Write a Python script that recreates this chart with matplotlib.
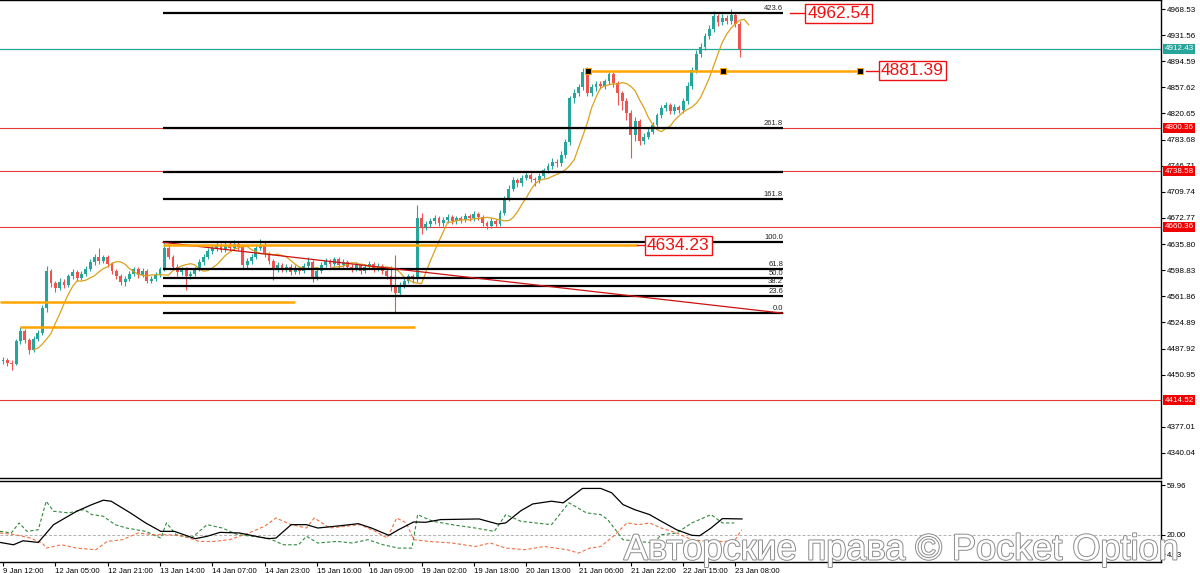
import numpy as np
import matplotlib
matplotlib.use("Agg")
import matplotlib.pyplot as plt
import matplotlib.patheffects as pe
import matplotlib.transforms as mtransforms

# ---------------- data ----------------
closes = [4472, 4468, 4466, 4498, 4512, 4500, 4486, 4502, 4510, 4545,
          4598, 4580, 4574, 4582, 4578, 4590, 4596, 4588, 4594, 4600,
          4610, 4618, 4612, 4617, 4608, 4598, 4590, 4582, 4586, 4594,
          4600, 4592, 4598, 4584, 4586, 4592, 4600, 4630, 4618, 4604,
          4596, 4600, 4590, 4594, 4600, 4610, 4618, 4626, 4630, 4634,
          4628, 4635, 4630, 4636, 4632, 4606, 4612, 4618, 4630, 4635,
          4622, 4612, 4600, 4606, 4600, 4604, 4596, 4602, 4598, 4605,
          4610, 4588, 4598, 4606, 4612, 4608, 4614, 4606, 4610, 4604,
          4600, 4606, 4598, 4604, 4608, 4600, 4605, 4598, 4590, 4575,
          4566, 4578, 4584, 4590, 4586, 4672, 4660, 4664, 4668, 4672,
          4666, 4670, 4674, 4668, 4672, 4670, 4676, 4672, 4678, 4674,
          4666, 4662, 4668, 4664, 4680, 4700, 4714, 4726, 4722, 4730,
          4734, 4728, 4726, 4732, 4740, 4746, 4752, 4750, 4762, 4780,
          4842, 4850, 4858, 4880, 4850, 4858, 4862, 4860, 4866, 4876,
          4864, 4850, 4838, 4822, 4790, 4810, 4782, 4788, 4795, 4804,
          4818, 4828, 4832, 4824, 4830, 4826, 4838, 4860, 4882, 4905,
          4915, 4930, 4940, 4958, 4950, 4956, 4952, 4960, 4948, 4912]
highs = [4476, 4475, 4472, 4502, 4518, 4515, 4503, 4506, 4514, 4550,
         4605, 4601, 4584, 4588, 4586, 4594, 4601, 4599, 4598, 4605,
         4615, 4622, 4630, 4621, 4620, 4611, 4601, 4593, 4590, 4598,
         4604, 4603, 4602, 4600, 4590, 4596, 4604, 4638, 4634, 4621,
         4607, 4604, 4603, 4598, 4604, 4614, 4622, 4630, 4636, 4639,
         4637, 4640, 4638, 4641, 4639, 4635, 4616, 4622, 4634, 4643,
         4638, 4625, 4615, 4610, 4609, 4608, 4607, 4606, 4605, 4609,
         4617, 4613, 4602, 4610, 4616, 4615, 4618, 4617, 4614, 4613,
         4607, 4610, 4609, 4608, 4612, 4611, 4609, 4608, 4601, 4605,
         4620, 4582, 4588, 4594, 4593, 4691, 4680, 4669, 4673, 4677,
         4675, 4674, 4679, 4677, 4676, 4676, 4680, 4679, 4682, 4681,
         4677, 4669, 4672, 4671, 4684, 4704, 4719, 4731, 4729, 4734,
         4739, 4737, 4731, 4736, 4744, 4750, 4757, 4756, 4767, 4785,
         4846, 4856, 4863, 4885, 4886, 4863, 4867, 4866, 4870, 4880,
         4879, 4867, 4853, 4842, 4825, 4815, 4813, 4793, 4800, 4808,
         4822, 4833, 4837, 4835, 4834, 4833, 4842, 4865, 4887, 4910,
         4920, 4935, 4946, 4966, 4962, 4961, 4960, 4968, 4963, 4951]
lows = [4466, 4463, 4458, 4464, 4494, 4496, 4480, 4483, 4498, 4507,
        4540, 4575, 4568, 4571, 4573, 4575, 4586, 4584, 4585, 4590,
        4597, 4606, 4608, 4609, 4604, 4594, 4586, 4578, 4577, 4583,
        4590, 4588, 4589, 4580, 4580, 4583, 4589, 4597, 4614, 4600,
        4591, 4592, 4571, 4586, 4591, 4597, 4606, 4614, 4622, 4626,
        4624, 4625, 4626, 4627, 4628, 4602, 4600, 4608, 4615, 4627,
        4618, 4608, 4585, 4596, 4596, 4596, 4592, 4593, 4594, 4595,
        4602, 4582, 4585, 4595, 4603, 4604, 4605, 4602, 4603, 4600,
        4596, 4597, 4594, 4595, 4601, 4596, 4597, 4594, 4586, 4570,
        4538, 4562, 4574, 4580, 4581, 4582, 4650, 4655, 4660, 4664,
        4662, 4662, 4666, 4664, 4664, 4666, 4667, 4668, 4669, 4670,
        4662, 4657, 4658, 4660, 4661, 4677, 4697, 4711, 4716, 4718,
        4726, 4723, 4718, 4722, 4729, 4736, 4742, 4745, 4747, 4758,
        4776, 4836, 4845, 4854, 4845, 4846, 4853, 4855, 4856, 4862,
        4858, 4832, 4826, 4812, 4758, 4782, 4776, 4778, 4784, 4791,
        4800, 4814, 4824, 4820, 4820, 4821, 4822, 4834, 4856, 4878,
        4900, 4911, 4926, 4936, 4945, 4946, 4947, 4948, 4943, 4900]
first_open = 4470
opens = [first_open] + closes[:-1]

time_labels = ["9 Jan 12:00", "12 Jan 05:00", "12 Jan 21:00", "13 Jan 14:00",
               "14 Jan 07:00", "14 Jan 23:00", "15 Jan 16:00", "16 Jan 09:00",
               "19 Jan 02:00", "19 Jan 18:00", "20 Jan 13:00", "21 Jan 06:00",
               "21 Jan 22:00", "22 Jan 15:00", "23 Jan 08:00"]
bars_per_label = 12

price_ticks = [4968.53, 4931.56, 4894.59, 4857.62, 4820.65, 4783.68, 4746.71,
               4709.74, 4672.77, 4635.80, 4598.83, 4561.86, 4524.89, 4487.92,
               4450.95, 4377.01, 4340.04]

red_levels = [4800.36, 4738.58, 4660.36, 4414.52]
teal_level = 4912.43

fib_p0 = 4537.9
fib_p1 = 4638.2
fib_levels = [0.0, 23.6, 38.2, 50.0, 61.8, 100.0, 161.8, 200.0, 261.8, 423.6]
fib_labels = ["0.0", "23.6", "38.2", "50.0", "61.8", "100.0", "161.8", "", "261.8", "423.6"]
fib_bar_start = 36.7
fib_bar_end = 178.9

# orange horizontal segments: price, start bar, end bar
orange_prices = [4634.23, 4553.8, 4518.4, 4881.39]
orange_starts = [36.7, -0.7, 3.9, 134.2]
orange_ends = [145.4, 67.0, 94.5, 197.0]
marker_bars = [134.2, 165.1, 196.6]

# callout boxes: text, price, connector start bar, connector end bar, box centre bar
callout_text = ["4962.54", "4881.39", "4634.23"]
callout_price = [4962.54, 4881.39, 4634.23]
callout_from = [180.5, 197.9, 145.4]
callout_to = [184.6, 201.1, 148.9]
callout_box = [191.7, 208.6, 154.9]

adx_points = [(-0.7, 13.8), (2.4, 11.9), (4.6, 15.1), (8.1, 13.8), (11.6, 28.1), (16.9, 38.9),
              (20.4, 44.3), (23.0, 47.8), (24.8, 47.0), (29.2, 37.6), (32.7, 29.5), (36.2, 22.7),
              (39.3, 22.7), (44.1, 16.8), (46.8, 18.7), (49.8, 21.9), (54.2, 21.4), (57.3, 19.2),
              (60.8, 16.8), (62.6, 17.3), (66.1, 28.1), (69.6, 28.1), (72.2, 25.4), (77.5, 27.3),
              (81.5, 28.9), (84.5, 25.4), (88.5, 19.5), (90.7, 24.0), (94.2, 30.3), (96.9, 30.0),
              (100.4, 32.2), (109.2, 32.7), (113.5, 28.6), (115.3, 29.5), (118.8, 39.4), (121.5, 44.8),
              (125.8, 47.0), (128.5, 45.7), (132.9, 57.3), (137.1, 57.3), (139.6, 53.8), (142.2, 44.3),
              (144.8, 40.3), (148.3, 36.2), (151.0, 30.8), (154.5, 24.0), (158.0, 19.5), (159.8, 19.2),
              (162.4, 25.4), (165.0, 33.0), (169.5, 32.7)]
plus_di_points = [(-0.7, 22.7), (1.9, 21.4), (3.7, 29.5), (5.5, 22.7), (8.1, 24.0), (9.9, 47.0),
                  (11.6, 38.9), (15.1, 37.6), (18.6, 40.3), (20.4, 36.2), (23.0, 34.9), (25.7, 28.1),
                  (28.3, 25.4), (32.7, 22.7), (36.2, 17.3), (37.5, 29.5), (39.7, 20.0), (43.2, 17.3),
                  (46.8, 28.1), (50.3, 25.4), (53.8, 20.0), (57.3, 18.7), (60.8, 17.3), (64.3, 11.9),
                  (67.8, 11.9), (69.6, 18.7), (72.2, 13.3), (76.6, 14.6), (80.1, 13.3), (83.7, 16.0),
                  (87.2, 11.9), (90.7, 9.2), (93.8, 9.2), (95.1, 36.2), (98.6, 30.8), (103.0, 28.1),
                  (108.3, 25.4), (112.7, 22.7), (115.3, 36.2), (118.8, 30.8), (125.8, 28.1), (129.8, 45.7),
                  (133.8, 37.6), (137.1, 36.2), (138.7, 32.2), (142.2, 16.0), (145.7, 14.6), (149.2, 13.3),
                  (151.0, 20.0), (154.5, 21.4), (158.0, 29.5), (162.4, 36.2), (165.0, 29.5), (167.7, 29.5)]
minus_di_points = [(-0.7, 21.4), (2.8, 20.0), (6.3, 17.3), (9.0, 13.3), (9.9, 9.2), (13.4, 11.9),
                   (16.9, 9.2), (21.3, 7.9), (23.9, 14.6), (27.4, 16.0), (31.0, 21.4), (34.5, 20.0),
                   (38.0, 20.0), (41.5, 18.7), (45.0, 14.6), (48.5, 14.6), (52.0, 16.0), (56.4, 21.4),
                   (60.0, 26.8), (62.6, 33.5), (66.1, 28.1), (69.6, 25.4), (71.4, 33.5), (74.9, 25.4),
                   (78.4, 26.8), (81.9, 28.1), (85.4, 22.7), (88.1, 17.3), (90.3, 33.5), (92.5, 29.5),
                   (94.2, 16.0), (97.7, 14.6), (103.0, 13.3), (108.3, 10.5), (111.8, 13.3), (115.3, 9.2),
                   (119.7, 7.9), (124.1, 10.5), (129.4, 7.9), (132.0, 5.2), (134.6, 9.2), (137.1, 10.5),
                   (140.4, 20.0), (143.1, 29.5), (145.7, 28.1), (148.3, 29.5), (151.0, 25.4), (154.5, 21.4),
                   (158.0, 16.0), (161.5, 14.6), (165.0, 14.6), (167.7, 14.6), (169.4, 24.0)]
ind_ticks = [59.96, 20.00, 4.13]
ind_level = 20.0

# ---------------- layout ----------------
FW, FH = 1200, 573
fig = plt.figure(figsize=(FW / 100, FH / 100), dpi=100)
plot_right = 1161
main_top, main_bot = 0, 478
ind_top, ind_bot = 481, 562
ax = fig.add_axes([0, (FH - main_bot) / FH, plot_right / FW, (main_bot - main_top) / FH])
ax2 = fig.add_axes([0, (FH - ind_bot) / FH, plot_right / FW, (ind_bot - ind_top) / FH])

x0_px, bar_px = 3.0, 4.36
xlim = (-x0_px / bar_px, (plot_right - x0_px) / bar_px)

UP = "#26a69a"
DN = "#ef5350"
TEAL = "#26a69a"
RED = "#ee1111"
ORANGE = "#ffa500"
FONT = "Liberation Sans"

# ---------------- main panel ----------------
n = len(closes)
idx = np.arange(n)
o = np.array(opens, float)
c = np.array(closes, float)
h = np.array(highs, float)
l = np.array(lows, float)
up = c >= o
cols = np.where(up, UP, DN)

for lev in red_levels:
    ax.axhline(lev, color="#e53935", lw=0.8, zorder=1)
ax.axhline(teal_level, color=TEAL, lw=0.9, zorder=1)

ax.vlines(idx, l, h, colors=cols, lw=0.8, zorder=3)
body_bottom = np.minimum(o, c)
body_h = np.maximum(np.abs(c - o), 0.8)
ax.bar(idx, body_h, bottom=body_bottom, width=0.66, color=cols, linewidth=0, zorder=3)

# moving average (shifted)
ma_period, ma_shift = 6, 2
ma = np.convolve(c, np.ones(ma_period) / ma_period, mode="valid")
ma_x = np.arange(ma_period - 1, n) + ma_shift
ax.plot(ma_x, ma, color="#d9a21b", lw=0.9, zorder=4)

# Fibonacci
rng = fib_p1 - fib_p0
for lev, lab in zip(fib_levels, fib_labels):
    p = fib_p0 + rng * lev / 100.0
    ax.hlines(p, fib_bar_start, fib_bar_end, color="black", lw=1.6, zorder=5)
    if lab:
        ax.text(fib_bar_end, p + 1.5, lab, ha="right", va="bottom", fontsize=5.5,
                family=FONT, color="#222222", zorder=6)
ax.plot([fib_bar_start, fib_bar_end], [fib_p1, fib_p0], color="#cc1111", lw=0.9, zorder=5)

# orange levels
for p, s, e in zip(orange_prices, orange_starts, orange_ends):
    ax.hlines(p, s, e, color=ORANGE, lw=1.8, zorder=6)
ax.plot(marker_bars, [orange_prices[3]] * len(marker_bars), linestyle="none", marker="s",
        ms=4, mfc="black", mec=ORANGE, mew=0.8, zorder=7)

# callouts
for t, p, a, b, bx in zip(callout_text, callout_price, callout_from, callout_to, callout_box):
    ax.plot([a, b], [p, p], color=RED, lw=1.0, zorder=7)
    ax.text(bx, p, t, ha="center", va="center", fontsize=12.5, family=FONT, color=RED, zorder=8,
            bbox=dict(boxstyle="square,pad=0.12", fc="white", ec=RED, lw=1.0))

ax.set_xlim(*xlim)
ax.set_ylim(4304.6, 4981.3)
ax.set_xticks([])
ax.yaxis.tick_right()
ax.set_yticks(price_ticks)
ax.set_yticklabels([f"{v:.2f}" for v in price_ticks])
ax.tick_params(axis="y", direction="out", length=3, width=0.8, labelsize=5.8, pad=1.5)
for lbl in ax.get_yticklabels():
    lbl.set_family(FONT)
ax.spines["left"].set_visible(False)
for side in ["top", "bottom", "right"]:
    ax.spines[side].set_color("black")
    ax.spines[side].set_linewidth(1.0)

# right-axis price tags
trans = mtransforms.blended_transform_factory(ax.transAxes, ax.transData)
for lev in red_levels:
    ax.text(1.003, lev, f"{lev:.2f}", transform=trans, ha="left", va="center", fontsize=5.8,
            family=FONT, color="white", zorder=10, clip_on=False,
            bbox=dict(boxstyle="square,pad=0.18", fc="#f00000", ec="none"))
ax.text(1.003, teal_level, f"{teal_level:.2f}", transform=trans, ha="left", va="center", fontsize=5.8,
        family=FONT, color="white", zorder=10, clip_on=False,
        bbox=dict(boxstyle="square,pad=0.18", fc=TEAL, ec="none"))

# ---------------- indicator panel ----------------
for pts, col, ls, lw in [(plus_di_points, "#2e8b3a", (0, (3, 2)), 0.8),
                         (minus_di_points, "#f07040", (0, (3, 2)), 0.8),
                         (adx_points, "black", "-", 0.9)]:
    xs, ys = zip(*pts)
    ax2.plot(xs, ys, color=col, ls=ls, lw=lw, zorder=3)
ax2.axhline(ind_level, color="#b0b0b0", ls=(0, (3, 2)), lw=0.7, zorder=1)
ax2.set_xlim(*xlim)
ax2.set_ylim(-2.0, 63.3)
ax2.yaxis.tick_right()
ax2.set_yticks(ind_ticks)
ax2.set_yticklabels([f"{v:.2f}" for v in ind_ticks])
tick_bars = [i * bars_per_label for i in range(len(time_labels))]
ax2.set_xticks(tick_bars)
ax2.set_xticklabels(time_labels)
ax2.tick_params(axis="both", direction="out", length=3, width=0.8, labelsize=5.6, pad=1)
for lbl in ax2.get_xticklabels():
    lbl.set_ha("left")
    lbl.set_family(FONT)
for lbl in ax2.get_yticklabels():
    lbl.set_family(FONT)
ax2.spines["left"].set_visible(False)
for side in ["top", "bottom", "right"]:
    ax2.spines[side].set_color("black")
    ax2.spines[side].set_linewidth(1.0)

# watermark
fig.text(901 / FW, 1 - 550 / FH, "Авторские права © Pocket Option", ha="center", va="center",
         fontsize=26, family=FONT, color="white", zorder=20,
         path_effects=[pe.withStroke(linewidth=1.4, foreground="#8c8c8c")])

fig.savefig("out.png", dpi=100, facecolor="white")
